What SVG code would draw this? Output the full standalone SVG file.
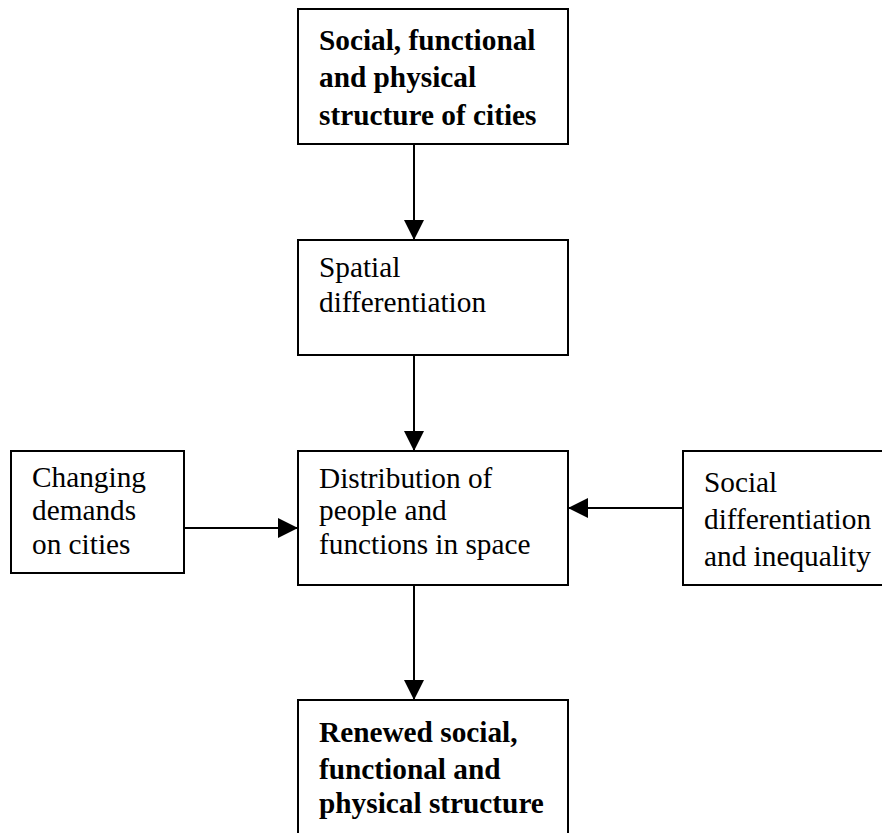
<svg xmlns="http://www.w3.org/2000/svg" width="882" height="833" viewBox="0 0 882 833">
<defs>
<style>
.box{fill:#fff;stroke:#000;stroke-width:2}
.t{font-family:"Liberation Serif","Times New Roman",serif;font-size:29.3px;fill:#000}
.b{font-weight:bold}
.c{stroke:#000;stroke-width:2;fill:none}
</style>
<marker id="ah" markerUnits="userSpaceOnUse" markerWidth="20" markerHeight="20" refX="20" refY="10" orient="auto" viewBox="0 0 20 20">
<path d="M0,0 L20,10 L0,20 Z" fill="#000"/>
</marker>
</defs>
<rect width="882" height="833" fill="#fff"/>
<g id="connectors">
<line class="c" x1="414" y1="144" x2="414" y2="240" marker-end="url(#ah)"/>
<line class="c" x1="414" y1="355" x2="414" y2="451" marker-end="url(#ah)"/>
<line class="c" x1="184" y1="528" x2="298" y2="528" marker-end="url(#ah)"/>
<line class="c" x1="683" y1="508" x2="568" y2="508" marker-end="url(#ah)"/>
<line class="c" x1="414" y1="585" x2="414" y2="700" marker-end="url(#ah)"/>
</g>
<g id="top">
<rect class="box" x="298" y="9" width="270" height="135"/>
<text class="t b" x="319"><tspan x="319" y="50">Social, functional</tspan><tspan x="319" y="87">and physical</tspan><tspan x="319" y="125">structure of cities</tspan></text>
</g>
<g id="spatial">
<rect class="box" x="298" y="240" width="270" height="115"/>
<text class="t" x="319"><tspan x="319" y="277">Spatial</tspan><tspan x="319" y="312">differentiation</tspan></text>
</g>
<g id="changing">
<rect class="box" x="11" y="451" width="173" height="122"/>
<text class="t" x="32"><tspan x="32" y="487">Changing</tspan><tspan x="32" y="520">demands</tspan><tspan x="32" y="554">on cities</tspan></text>
</g>
<g id="distribution">
<rect class="box" x="298" y="451" width="270" height="134"/>
<text class="t" x="319"><tspan x="319" y="488">Distribution of</tspan><tspan x="319" y="520">people and</tspan><tspan x="319" y="554">functions in space</tspan></text>
</g>
<g id="social">
<rect class="box" x="683" y="451" width="230" height="134"/>
<text class="t" x="704"><tspan x="704" y="492">Social</tspan><tspan x="704" y="529">differentiation</tspan><tspan x="704" y="566">and inequality</tspan></text>
</g>
<g id="renewed">
<rect class="box" x="298" y="700" width="270" height="160"/>
<text class="t b" x="319"><tspan x="319" y="742">Renewed social,</tspan><tspan x="319" y="779">functional and</tspan><tspan x="319" y="813">physical structure</tspan></text>
</g>
</svg>
